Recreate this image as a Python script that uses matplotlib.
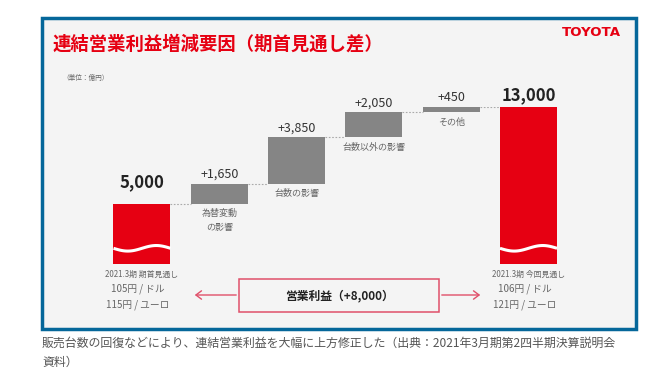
import numpy as np
import matplotlib
matplotlib.use("Agg")
import matplotlib.pyplot as plt
from matplotlib.patches import Rectangle, FancyArrowPatch

plt.rcParams['font.family'] = ['Noto Sans CJK JP', 'DejaVu Sans']

# data (億円)
start_value = 5000
end_value = 13000
deltas = [1650, 3850, 2050, 450]
delta_labels = ["+1,650", "+3,850", "+2,050", "+450"]
delta_names = ["為替変動\nの影響", "台数の影響", "台数以外の影響", "その他"]
start_label = "5,000"
end_label = "13,000"
start_notes = ["2021.3期 期首見通し", "105円 / ドル", "115円 / ユーロ"]
end_notes = ["2021.3期 今回見通し", "106円 / ドル", "121円 / ユーロ"]
total_label = "営業利益（+8,000）"

RED = "#e60012"
GRAY = "#858585"
TEXT_GRAY = "#666666"
PINK = "#e0506a"
BLUE = "#05679a"

W, H = 672, 379
fig = plt.figure(figsize=(W / 100, H / 100), dpi=100)
fig.patch.set_facecolor("white")

def fx(px):
    return px / W

def fy(py):
    return 1 - py / H

# panel background + border
bg = fig.add_axes([0, 0, 1, 1])
bg.set_xlim(0, W)
bg.set_ylim(H, 0)
bg.axis("off")
bg.add_patch(Rectangle((42, 18), 594, 311, facecolor="#f4f4f4",
                       edgecolor=BLUE, linewidth=2.5))

bg.text(53, 44, "連結営業利益増減要因（期首見通し差）", color=RED,
        fontsize=13.2, fontweight="bold", va="center", ha="left")
bg.text(621, 33, "TOYOTA", color=RED, fontsize=9.6, fontweight="bold",
        va="center", ha="right", family=["DejaVu Sans"])
bg.text(62, 78, "（単位：億円）", color=TEXT_GRAY, fontsize=4.8,
        va="center", ha="left")

# caption under the panel
bg.text(42, 343, "販売台数の回復などにより、連結営業利益を大幅に上方修正した（出典：2021年3月期第2四半期決算説明会",
        color="#555555", fontsize=8.6, va="center", ha="left")
bg.text(42, 362, "資料）", color="#555555", fontsize=8.6, va="center", ha="left")

# total box with arrows
bg.add_patch(Rectangle((239, 279), 200, 33, facecolor="#f4f4f4",
                       edgecolor=PINK, linewidth=1.1))
bg.text(339, 296, total_label, color="#222222", fontsize=8.5,
        fontweight="bold", va="center", ha="center")
bg.add_patch(FancyArrowPatch((239, 295), (192, 295), arrowstyle="->,head_length=4,head_width=3",
                             color=PINK, linewidth=1.0, mutation_scale=1))
bg.add_patch(FancyArrowPatch((439, 295), (483, 295), arrowstyle="->,head_length=4,head_width=3",
                             color=PINK, linewidth=1.0, mutation_scale=1))

# waterfall axes
spacing = 77.3
left_px = 142 - spacing / 2
ax = fig.add_axes([fx(left_px), fy(264), 6 * spacing / W, 157 / H])
ax.set_xlim(-0.5, 5.5)
ax.set_ylim(0, 13000)
ax.axis("off")

bw = 57 / spacing
x = np.arange(6)

ax.bar(x[0], start_value, width=bw, color=RED)
ax.bar(x[5], end_value, width=bw, color=RED)

bottoms = start_value + np.concatenate([[0], np.cumsum(deltas)[:-1]])
ax.bar(x[1:5], deltas, bottom=bottoms, width=bw, color=GRAY)

# dotted connectors
levels = [start_value] + list(bottoms[1:]) + [end_value]
for i, lv in enumerate(levels):
    ax.plot([x[i] + bw / 2, x[i + 1] - bw / 2], [lv, lv], color="#aaaaaa",
            linestyle=(0, (1.5, 1.5)), linewidth=0.8)

# wavy white line on the red bars
for xc in (x[0], x[5]):
    wx = np.linspace(xc - bw / 2, xc + bw / 2, 60)
    wy = 1300 - 230 * np.sin((wx - xc + bw / 2) / bw * 2 * np.pi)
    ax.plot(wx, wy, color="white", linewidth=2.2, solid_capstyle="butt")

# value labels
ax.text(x[0], start_value + 1000, start_label, ha="center", va="bottom",
        fontsize=12, fontweight="bold", color="#222222")
ax.text(x[5], end_value + 250, end_label, ha="center", va="bottom",
        fontsize=12, fontweight="bold", color="#222222")
for i, (d, b) in enumerate(zip(deltas, bottoms)):
    ax.text(x[i + 1], b + d + 250, delta_labels[i], ha="center", va="bottom",
            fontsize=9, color="#333333")
    ax.text(x[i + 1], b - 450, delta_names[i], ha="center", va="top",
            fontsize=6.5, color=TEXT_GRAY, linespacing=1.7)

# notes under the red bars
for xc, notes in ((x[0], start_notes), (x[5], end_notes)):
    ax.text(xc, -450, notes[0], ha="center", va="top", fontsize=5.7, color=TEXT_GRAY)
    ax.text(xc - 0.05, -1650, notes[1], ha="center", va="top", fontsize=7, color=TEXT_GRAY)
    ax.text(xc - 0.05, -2900, notes[2], ha="center", va="top", fontsize=7, color=TEXT_GRAY)

fig.savefig("out.png", dpi=100, facecolor="white")
